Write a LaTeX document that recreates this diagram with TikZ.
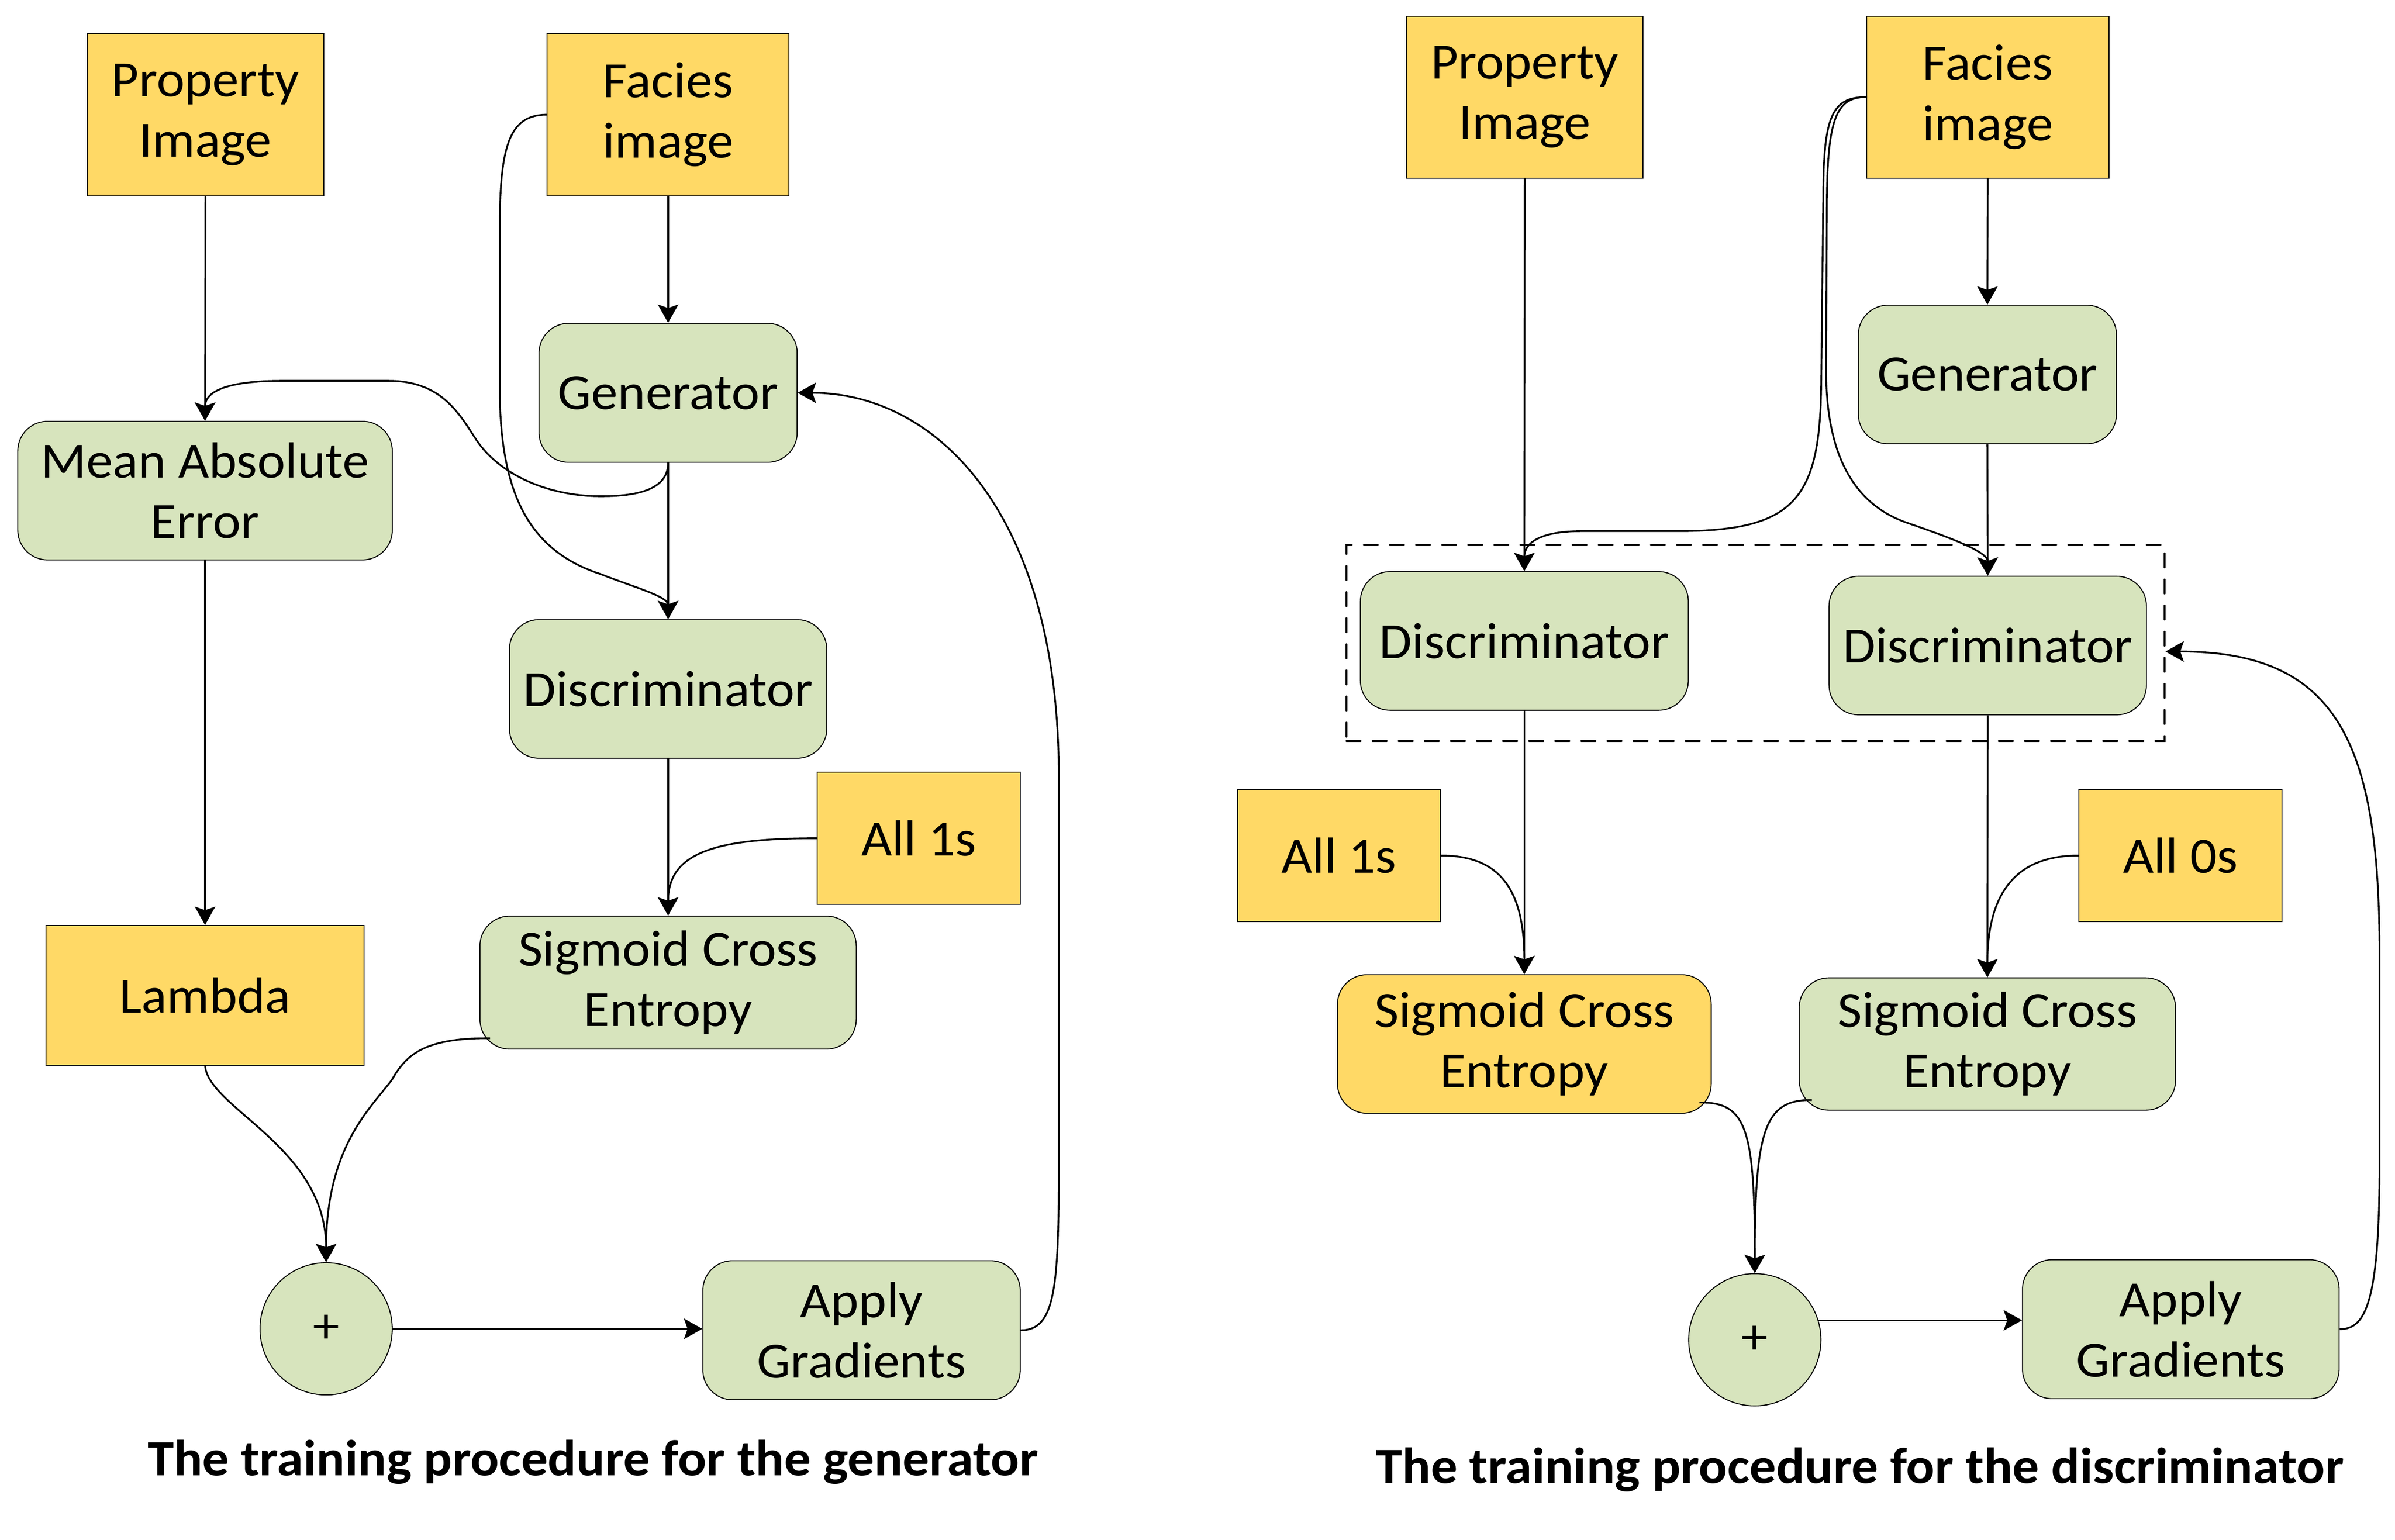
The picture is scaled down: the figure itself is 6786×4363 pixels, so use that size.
\documentclass[tikz,border=0pt]{standalone}
\usepackage{fontspec}
\setmainfont{Carlito}[FakeStretch=1.045]
\usetikzlibrary{positioning, arrows.meta}

\definecolor{inyellow}{HTML}{FFD966}
\definecolor{opgreen}{HTML}{D7E4BD}

\begin{document}
\begin{tikzpicture}[x=0.005cm, y=-0.005cm,
        font=\fontsize{20.5}{24.4}\selectfont,
        inbox/.style={draw=black, line width=0.4pt, fill=inyellow, align=center, inner sep=0pt},
        opbox/.style={draw=black, line width=0.4pt, fill=opgreen, rounded corners=0.42cm, align=center, inner sep=0pt},
        sumnode/.style={draw=black, line width=0.4pt, fill=opgreen, circle, minimum size=1.875cm, inner sep=0pt},
        groupbox/.style={draw=black, line width=0.75pt, dash pattern=on 0.2cm off 0.17cm, line cap=round, inner sep=0pt},
        flow/.style={line width=0.7pt, -{Stealth[length=2.6mm, width=2.9mm, inset=0.5mm]}},
        caption/.style={font=\fontsize{20.5}{24.4}\selectfont\bfseries}]

        \useasboundingbox (0,0) rectangle (6786,4363);

        % training the generator
        \node[inbox, minimum width=3.355cm, minimum height=2.3cm] (prop1) at (582,325) {Property\\Image};
        \node[inbox, minimum width=3.43cm, minimum height=2.3cm] (facies1) at (1893,325) {Facies\\image};
        \node[opbox, minimum width=3.66cm, minimum height=1.97cm] (gen1) at (1893,1113) {Generator};
        \node[opbox, minimum width=5.31cm, minimum height=1.965cm] (mae) at (581,1390) {Mean Absolute\\Error};
        \node[opbox, minimum width=4.5cm, minimum height=1.965cm] (disc1) at (1893,1952) {Discriminator};
        \node[inbox, minimum width=2.88cm, minimum height=1.88cm] (ones1) at (2603,2375) {All 1s};
        \node[opbox, minimum width=5.335cm, minimum height=1.885cm] (sce1) at (1893,2784) {Sigmoid Cross\\Entropy};
        \node[inbox, minimum width=4.505cm, minimum height=1.98cm] (lambda) at (581,2820) {Lambda};
        \node[sumnode] (plus1) at (924,3765) {+};
        \node[opbox, minimum width=4.5cm, minimum height=1.97cm] (apply1) at (2441,3769) {Apply\\Gradients};
        \node[caption] (title1) at (1680,4142) {The training procedure for the generator};

        % training the discriminator
        \node[inbox, minimum width=3.35cm, minimum height=2.295cm] (prop2) at (4320,275) {Property\\Image};
        \node[inbox, minimum width=3.435cm, minimum height=2.295cm] (facies2) at (5632,275) {Facies\\image};
        \node[opbox, minimum width=3.66cm, minimum height=1.965cm] (gen2) at (5631,1061) {Generator};
        \node[opbox, minimum width=4.65cm, minimum height=1.965cm] (discA) at (4319,1816) {Discriminator};
        \node[opbox, minimum width=4.5cm, minimum height=1.965cm] (discB) at (5632,1829) {Discriminator};
        \node[groupbox, minimum width=11.6cm, minimum height=2.775cm] (pair) at (4974,1822) {};
        \node[inbox, minimum width=2.88cm, minimum height=1.875cm] (ones2) at (3794,2424) {All 1s};
        \node[inbox, minimum width=2.88cm, minimum height=1.875cm] (zeros) at (6178,2424) {All 0s};
        \node[opbox, fill=inyellow, minimum width=5.3cm, minimum height=1.965cm] (sceA) at (4319,2958) {Sigmoid Cross\\Entropy};
        \node[opbox, minimum width=5.335cm, minimum height=1.875cm] (sceB) at (5631,2958) {Sigmoid Cross\\Entropy};
        \node[sumnode] (plus2) at (4972,3796) {+};
        \node[opbox, minimum width=4.49cm, minimum height=1.97cm] (apply2) at (6179,3766) {Apply\\Gradients};
        \node[caption] (title2) at (5270,4164) {The training procedure for the discriminator};

        % straight arrows
        \foreach \a/\b in {prop1/mae, facies1/gen1, gen1/disc1, mae/lambda, disc1/sce1,
                prop2/discA, facies2/gen2, gen2/discB, discA/sceA, discB/sceB}
            \draw[flow] (\a.south) -- (\b.north);

        % curved arrows, generator side
        \draw[flow] (gen1.south) .. controls (1893,1390) and (1800,1406) .. (1702,1406)
            .. controls (1560,1406) and (1420,1350) .. (1350,1247)
            .. controls (1300,1170) and (1250,1079) .. (1100,1079)
            -- (800,1079) .. controls (640,1079) and (581,1110) .. (mae.north);
        \draw[flow] (facies1.west) .. controls (1440,325) and (1416,420) .. (1416,650)
            -- (1416,1100) .. controls (1416,1400) and (1500,1560) .. (1700,1626)
            .. controls (1800,1665) and (1893,1690) .. (disc1.north);
        \draw[flow] (ones1.west) .. controls (2015,2375) and (1893,2420) .. (sce1.north);
        \draw[flow] ([xshift=0.15cm,yshift=0.16cm]sce1.south west) .. controls (1200,2940) and (1150,2990) .. (1110,3060)
            .. controls (1050,3140) and (924,3250) .. (plus1.north);
        \draw[flow] (lambda.south) .. controls (590,3140) and (924,3250) .. (plus1.north);
        \draw[flow] (plus1.east) -- (plus1.east -| apply1.west);
        \draw[flow] (apply1.east) .. controls (2990,3769) and (3000,3650) .. (3000,3300)
            -- (3000,2200) .. controls (3000,1450) and (2650,1113) .. (gen1.east);

        % curved arrows, discriminator side
        \draw[flow] (facies2.west) .. controls (5190,275) and (5166,330) .. (5166,560)
            -- (5160,1100) .. controls (5155,1420) and (5080,1505) .. (4750,1505)
            -- (4480,1505) .. controls (4360,1505) and (4319,1540) .. (discA.north);
        \draw[flow] (facies2.west) .. controls (5200,275) and (5176,340) .. (5176,600)
            -- (5174,1050) .. controls (5174,1300) and (5260,1430) .. (5400,1480)
            .. controls (5500,1515) and (5632,1560) .. (discB.north);
        \draw[flow] (ones2.east) .. controls (4250,2424) and (4319,2520) .. (sceA.north);
        \draw[flow] (zeros.west) .. controls (5720,2424) and (5631,2520) .. (sceB.north);
        \draw[flow] ([xshift=-0.175cm,yshift=0.16cm]sceA.south east) .. controls (4950,3122) and (4972,3200) .. (plus2.north);
        \draw[flow] ([xshift=0.185cm,yshift=0.15cm]sceB.south west) .. controls (5000,3115) and (4972,3200) .. (plus2.north);
        \draw[flow] (plus2.17) -- (plus2.17 -| apply2.west);
        \draw[flow] (apply2.east) .. controls (6700,3766) and (6742,3700) .. (6742,3300)
            -- (6742,2700) .. controls (6742,2100) and (6620,1846) .. ([yshift=-0.12cm]pair.east);
    \end{tikzpicture}
\end{document}
